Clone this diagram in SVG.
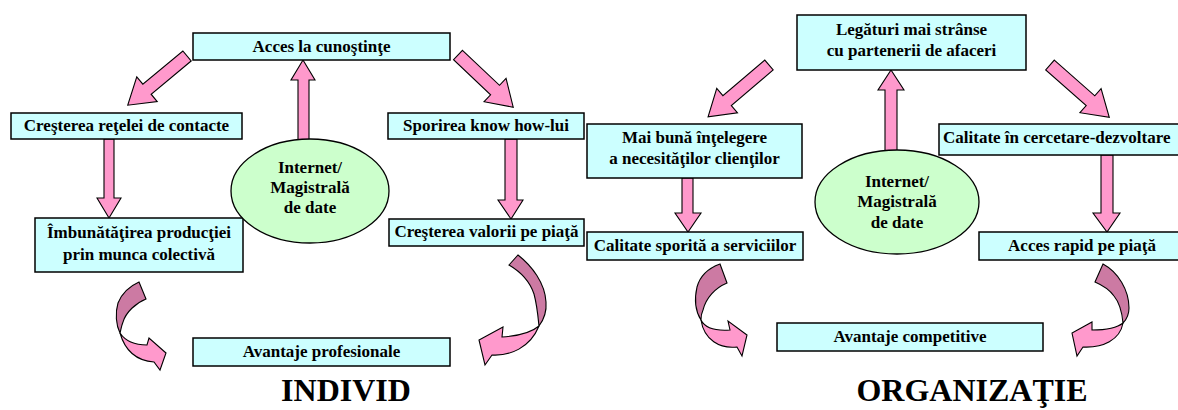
<svg xmlns="http://www.w3.org/2000/svg" width="1178" height="410" viewBox="0 0 1178 410">
<style>
.box{fill:#CCFFFF;stroke:#000;stroke-width:1.5}
.ell{fill:#CCFFCC;stroke:#000;stroke-width:1.3}
.arr{fill:#FF99CC;stroke:#000;stroke-width:1.1;stroke-linejoin:miter}
.dark{fill:#CC7AA3;stroke:#000;stroke-width:1.1}
.t{font-family:"Liberation Serif","Times New Roman",serif;font-weight:bold;font-size:17px;fill:#000;text-anchor:middle}
.big{font-family:"Liberation Serif","Times New Roman",serif;font-weight:bold;font-size:32px;fill:#000;text-anchor:middle}
</style>
<rect width="1178" height="410" fill="#fff"/>
<g id="connectors">
  <polygon class="arr" points="298,141 298,80 291,80 303,60 315,80 309,80 309,141"/>
  <polygon class="arr" points="104,139 104,198 97,198 109,218 121,198 114,198 114,139"/>
  <polygon class="arr" points="505,139 505,200 498,200 511,219 523,200 517,200 517,139"/>
  <polygon class="arr" points="682,178 682,213 675,213 688,232 701,213 693,213 693,178"/>
  <polygon class="arr" points="885,152 885,90 878,90 891,70 904,90 897,90 897,152"/>
  <polygon class="arr" points="1101,155 1101,213 1093,213 1107,232 1120,213 1113,213 1113,155"/>
  <path class="arr" transform="translate(187,56) rotate(140.3)" d="M0,-6.5 H52 V-16 L77,0 L52,16 V6.5 H0 Z"/>
  <path class="arr" transform="translate(458,55) rotate(43.4)" d="M0,-6.5 H51 V-16 L76,0 L51,16 V6.5 H0 Z"/>
  <path class="arr" transform="translate(769,65) rotate(139.6)" d="M0,-6.5 H55 V-16 L80,0 L55,16 V6.5 H0 Z"/>
  <path class="arr" transform="translate(1050,65) rotate(41.4)" d="M0,-6.5 H54 V-16 L79,0 L54,16 V6.5 H0 Z"/>
  <g id="curved1">
    <path class="dark" d="M139,282 L146,299 C136,303 126,312 123,322 C121,327 121,330 120,333 C116,325 115,313 118,303 C122,293 130,286 139,282 Z"/>
    <path class="arr" d="M120,333 C126,342 136,345 147,345 L149,338 L166,353 L160,370 L154,362 C140,361 126,354 120,333 Z"/>
  </g>
  <g id="curved2">
    <path class="dark" d="M518,255 C532,266 545,283 546,302 C547,314 542,322 539,326 C538,316 537,305 534,294 C530,282 521,272 509,265 Z"/>
    <path class="arr" d="M539,326 C532,332 518,336 502,337 L503,327 L479,340 L485,365 L492,355 C510,356 530,348 539,326 Z"/>
  </g>
  <g id="curved3">
    <path class="dark" d="M720,264 L727,283 C715,288 706,298 703,310 C701,314 701,317 701,320 C696,312 694,300 697,287 C700,276 709,268 720,264 Z"/>
    <path class="arr" d="M701,320 C705,328 716,331 730,330 L728,321 L747,335 L742,356 L737,347 C720,349 704,340 701,320 Z"/>
  </g>
  <g id="curved4">
    <path class="dark" d="M1103,264 C1118,272 1129,290 1129,308 C1129,315 1126,320 1123,323 C1122,312 1119,302 1114,296 C1109,289 1102,285 1095,282 Z"/>
    <path class="arr" d="M1123,323 C1117,328 1105,330 1092,330 L1092,322 L1072,333 L1077,356 L1083,347 C1103,348 1120,340 1123,323 Z"/>
  </g>
</g>
<g id="n-acces"><rect class="box" x="193" y="33" width="257" height="27"/><text class="t" x="321.5" y="52">Acces la cunoştinţe</text></g>
<g id="n-retea"><rect class="box" x="11" y="113" width="231" height="26"/><text class="t" x="126.5" y="131">Creşterea reţelei de contacte</text></g>
<g id="n-knowhow"><rect class="box" x="388" y="113" width="196" height="26"/><text class="t" x="486" y="131">Sporirea know how-lui</text></g>
<g id="n-productie"><rect class="box" x="35" y="218" width="208" height="54"/><text class="t" x="139" y="238">Îmbunătăţirea producţiei</text><text class="t" x="139" y="260">prin munca colectivă</text></g>
<g id="n-valoare"><rect class="box" x="389" y="219" width="195" height="27"/><text class="t" x="486.5" y="237">Creşterea valorii pe piaţă</text></g>
<g id="n-avprof"><rect class="box" x="193" y="338" width="257" height="28"/><text class="t" x="321.5" y="357">Avantaje profesionale</text></g>
<g id="n-internet1"><ellipse class="ell" cx="310" cy="191" rx="79" ry="52"/><text class="t" x="310" y="173">Internet/</text><text class="t" x="310" y="193">Magistrală</text><text class="t" x="310" y="213">de date</text></g>
<g id="n-legaturi"><rect class="box" x="797" y="15" width="229" height="55"/><text class="t" x="911.5" y="35">Legături mai strânse</text><text class="t" x="911.5" y="56">cu partenerii de afaceri</text></g>
<g id="n-intelegere"><rect class="box" x="587" y="124" width="215" height="54"/><text class="t" x="694.5" y="143">Mai bună înţelegere</text><text class="t" x="694.5" y="164">a necesităţilor clienţilor</text></g>
<g id="n-cercetare"><rect class="box" x="939" y="124" width="245" height="31"/><text class="t" x="943" y="143" style="text-anchor:start">Calitate în cercetare-dezvoltare</text></g>
<g id="n-servicii"><rect class="box" x="587" y="232" width="216" height="28"/><text class="t" x="695" y="251">Calitate sporită a serviciilor</text></g>
<g id="n-rapid"><rect class="box" x="979" y="232" width="205" height="28"/><text class="t" x="1082" y="251">Acces rapid pe piaţă</text></g>
<g id="n-avcomp"><rect class="box" x="777" y="323" width="266" height="28"/><text class="t" x="910" y="342">Avantaje competitive</text></g>
<g id="n-internet2"><ellipse class="ell" cx="897" cy="202" rx="82" ry="52"/><text class="t" x="897" y="187">Internet/</text><text class="t" x="897" y="207">Magistrală</text><text class="t" x="897" y="228">de date</text></g>
<text class="big" x="346" y="401">INDIVID</text>
<text class="big" x="972" y="401">ORGANIZAŢIE</text>
</svg>
